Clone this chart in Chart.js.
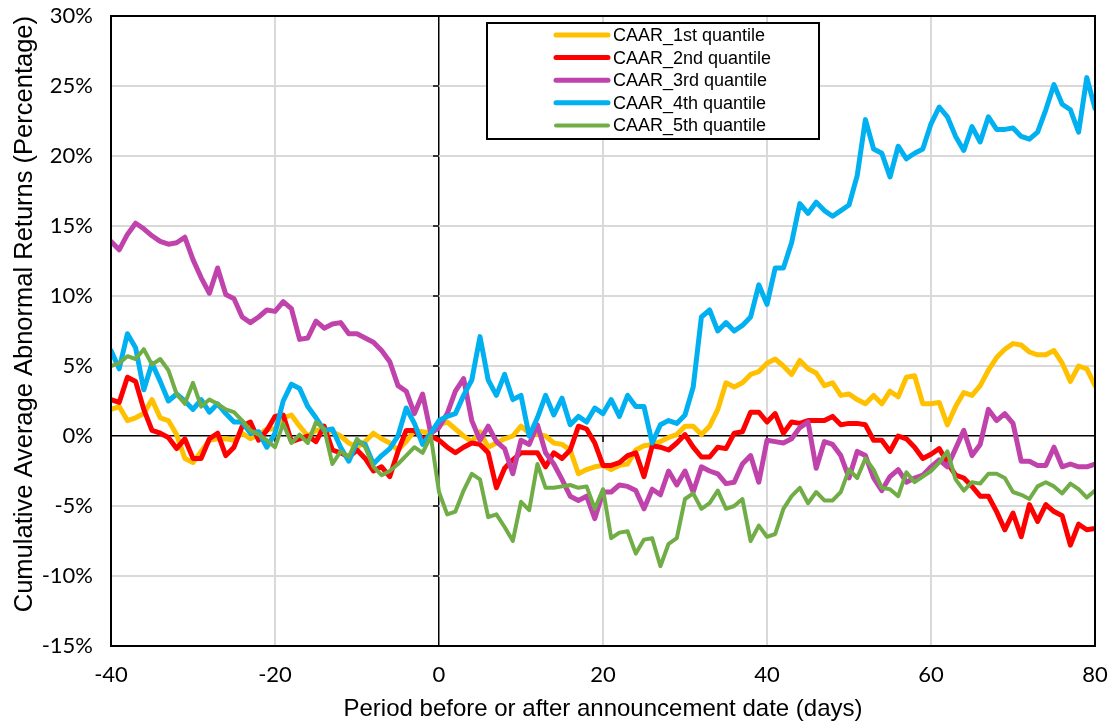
<!DOCTYPE html>
<html>
<head>
<meta charset="utf-8">
<title>CAAR by quantile</title>
<script src="https://cdn.jsdelivr.net/npm/chart.js@4.4.1/dist/chart.umd.min.js"></script>
<style>
  html, body { margin: 0; padding: 0; background: #fff; }
  canvas { display: block; }
</style>
</head>
<body>
<canvas id="chart" width="1115" height="726"></canvas>
<script>
// event window, day -40 .. day 80
const days = Array.from({ length: 121 }, (_, i) => i - 40);

// cumulative average abnormal returns, in percent, one value per day
const caar1 = [
  1.9, 2.1, 1.1, 1.3, 1.6, 2.6, 1.3, 1.1, 0.1, -1.6,
  -1.9, -1.1, -0.3, -0.2, -0.2, -0.3, 0.2, -0.2, 0.1, 0.5,
  0.5, 1.3, 1.5, 0.7, 0.0, 0.4, 0.5, 0.3, 0.0, -0.5,
  -0.8, -0.4, 0.2, -0.2, -0.5, -1.0, -0.4, 0.4, 0.3, 0.2,
  0.8, 1.0, 0.5, 0.0, -0.4, 0.3, -0.8, -0.5, -0.2, 0.0,
  0.7, 0.2, 0.1, 0.0, -0.5, -0.6, -1.0, -2.7, -2.4, -2.2,
  -2.1, -2.4, -2.1, -2.0, -1.0, -0.7, -0.6, -0.4, -0.1, 0.1,
  0.7, 0.7, 0.1, 0.7, 1.9, 3.8, 3.5, 3.8, 4.4, 4.6,
  5.2, 5.5, 5.0, 4.4, 5.4, 4.8, 4.5, 3.6, 3.8, 2.9,
  3.0, 2.6, 2.3, 2.9, 2.3, 3.2, 2.8, 4.2, 4.3, 2.3,
  2.3, 2.4, 0.8, 2.1, 3.1, 2.9, 3.6, 4.7, 5.6, 6.2,
  6.6, 6.5, 6.0, 5.8, 5.8, 6.1, 5.2, 3.9, 5.0, 4.8,
  3.6
];
const caar2 = [
  2.6, 2.4, 4.2, 3.9, 1.9, 0.4, 0.2, -0.1, -0.9, -0.2,
  -1.6, -1.6, -0.2, 0.2, -1.4, -0.8, 0.7, 1.0, -0.3, 0.4,
  1.4, 1.5, -0.4, -0.2, 0.0, -0.4, 0.7, -1.0, -1.2, -1.5,
  -1.0, -1.6, -2.5, -2.2, -2.9, -1.1, 0.4, 0.4, -0.2, 0.0,
  -0.3, -0.8, -1.2, -0.8, -0.5, -0.6, -1.2, -3.7, -2.3, -1.7,
  -1.2, -1.2, -1.2, -2.2, -1.2, -1.6, -1.0, 0.7, 0.5, -0.5,
  -2.1, -2.1, -1.9, -1.4, -1.2, -2.9, -0.7, -0.8, -1.0, -0.5,
  0.1, -0.8, -1.5, -1.5, -0.8, -0.9, 0.2, 0.3, 1.7, 1.7,
  1.0, 1.6, 0.2, 1.0, 0.9, 1.1, 1.1, 1.1, 1.4, 0.8,
  0.9, 0.9, 0.8, -0.3, -0.3, -1.1, 0.0, -0.2, -0.8, -1.6,
  -1.3, -0.9, -1.9, -2.8, -3.0, -3.6, -4.3, -4.3, -5.4, -6.7,
  -5.5, -7.2, -4.9, -6.1, -4.9, -5.4, -5.7, -7.8, -6.3, -6.7,
  -6.6
];
const caar3 = [
  13.9, 13.3, 14.4, 15.2, 14.8, 14.3, 13.9, 13.7, 13.8, 14.2,
  12.6, 11.3, 10.2, 12.0, 10.1, 9.8, 8.5, 8.1, 8.5, 9.0,
  8.9, 9.6, 9.1, 6.9, 7.0, 8.2, 7.7, 8.0, 8.1, 7.3,
  7.3, 7.0, 6.7, 6.1, 5.3, 3.6, 3.2, 1.6, 3.0, 0.2,
  0.6, 1.6, 3.2, 4.1, 1.1, -0.3, 0.7, -0.4, -0.9, -2.7,
  -0.3, -0.6, 0.8, -1.2, -2.0, -3.1, -4.3, -4.6, -4.3, -5.9,
  -4.0, -4.0, -3.5, -3.6, -3.9, -5.2, -3.8, -4.2, -2.5, -3.5,
  -2.5, -4.0, -2.2, -2.5, -2.7, -3.4, -3.3, -2.0, -1.4, -3.3,
  -0.3, -0.4, -0.5, -0.2, 0.6, 1.0, -2.3, -0.4, -0.6, -1.4,
  -3.0, -1.1, -1.4, -3.0, -3.9, -2.9, -2.4, -3.3, -3.0, -2.8,
  -2.2, -1.7, -2.2, -0.9, 0.4, -1.4, -0.6, 1.9, 1.1, 1.6,
  0.9, -1.8, -1.8, -2.1, -2.1, -0.8, -2.2, -2.0, -2.2, -2.2,
  -2.0
];
const caar4 = [
  6.1, 4.8, 7.3, 6.3, 3.3, 5.2, 3.9, 2.5, 3.0, 2.5,
  1.9, 2.6, 1.7, 2.3, 1.6, 1.0, 1.0, 0.2, 0.3, -0.8,
  0.2, 2.5, 3.7, 3.4, 2.1, 1.3, 0.4, 0.5, -0.8, -1.8,
  -0.4, -0.6, -2.0, -1.4, -0.9, 0.0, 2.0, 0.9, -0.6, 0.2,
  1.1, 1.4, 1.6, 2.9, 4.0, 7.1, 4.0, 2.9, 4.4, 2.6,
  2.9, 0.0, 1.3, 2.9, 1.5, 2.7, 0.8, 1.4, 1.0, 2.0,
  1.6, 2.6, 1.4, 2.9, 2.1, 2.1, -0.5, 0.8, 1.1, 0.9,
  1.5, 3.5, 8.5, 9.0, 7.5, 8.1, 7.5, 7.9, 8.5, 10.8,
  9.4, 12.0, 12.0, 13.8, 16.6, 15.9, 16.7, 16.1, 15.7, 16.1,
  16.5, 18.6, 22.6, 20.5, 20.2, 18.5, 20.7, 19.8, 20.2, 20.5,
  22.3, 23.5, 22.8, 21.4, 20.4, 22.1, 21.0, 22.8, 21.9, 21.9,
  22.0, 21.4, 21.2, 21.7, 23.3, 25.1, 23.7, 23.3, 21.7, 25.6,
  23.4
];
const caar5 = [
  5.0, 5.2, 5.7, 5.5, 6.2, 5.1, 5.5, 4.7, 3.0, 2.3,
  3.8, 2.1, 2.6, 2.3, 1.9, 1.7, 1.1, 0.4, 0.1, -0.3,
  -0.8, 0.9, -0.5, 0.1, -0.5, 1.0, 0.5, -2.0, -1.1, -1.5,
  -0.2, -0.8, -2.2, -2.8, -2.5, -2.0, -1.4, -0.8, -1.2, 0.0,
  -4.0, -5.6, -5.4, -3.9, -2.7, -3.1, -5.8, -5.6, -6.5, -7.5,
  -4.7, -5.3, -2.0, -3.7, -3.7, -3.6, -3.5, -3.7, -3.6, -5.2,
  -3.8, -7.3, -6.9, -6.8, -8.4, -7.4, -7.3, -9.3, -7.7, -7.3,
  -4.5, -4.1, -5.2, -4.8, -3.9, -5.2, -5.0, -4.5, -7.5, -6.4,
  -7.2, -7.0, -5.2, -4.3, -3.7, -4.8, -4.0, -4.6, -4.6, -4.0,
  -2.4, -3.0, -1.6, -2.4, -3.7, -3.8, -4.3, -2.6, -3.3, -2.9,
  -2.5, -1.9, -1.1, -3.1, -3.9, -3.3, -3.4, -2.7, -2.7, -3.0,
  -4.0, -4.2, -4.5, -3.6, -3.3, -3.6, -4.1, -3.4, -3.8, -4.4,
  -3.9
];

const seriesNames = ['CAAR_1st quantile', 'CAAR_2nd quantile', 'CAAR_3rd quantile', 'CAAR_4th quantile', 'CAAR_5th quantile'];
const seriesValues = [caar1, caar2, caar3, caar4, caar5];
const seriesColors = ['#FFC000', '#FF0000', '#C043AC', '#00B0F0', '#70AD47'];
const seriesWidths = [5, 5, 5, 5, 4];

const TICK_FONT = { family: 'Lato, Carlito, sans-serif', size: 22 };

let datasets = seriesValues.map((values, i) => ({
  label: seriesNames[i],
  data: values.map((v, j) => ({ x: days[j], y: v })),
  borderColor: seriesColors[i],
  backgroundColor: seriesColors[i],
  borderWidth: seriesWidths[i],
  order: seriesValues.length - i, // later quantiles painted on top
  fill: false,
}));

let gridColor = c => (c.tick && c.tick.value === 0) ? '#000' : '#d9d9d9';
let gridWidth = c => (c.tick && c.tick.value === 0) ? 1.5 : 2;

// plot frame, small ticks on the zero axes, and the boxed legend
const frame = {
  id: 'frame',
  beforeDatasetsDraw(chart) {
    const { ctx, scales: { x, y } } = chart;
    const x0 = x.getPixelForValue(0);
    const y0 = y.getPixelForValue(0);
    ctx.save();
    ctx.strokeStyle = '#000';
    ctx.lineWidth = 1.5;
    ctx.beginPath();
    y.ticks.forEach(t => {
      const py = y.getPixelForValue(t.value);
      ctx.moveTo(x0 - 6, py);
      ctx.lineTo(x0, py);
    });
    x.ticks.forEach(t => {
      const px = x.getPixelForValue(t.value);
      ctx.moveTo(px, y0);
      ctx.lineTo(px, y0 + 6);
    });
    ctx.stroke();
    ctx.restore();
  },
  afterDraw(chart) {
    const { ctx, chartArea: a } = chart;
    ctx.save();
    ctx.strokeStyle = '#000';
    ctx.lineWidth = 2;
    ctx.strokeRect(a.left, a.top, a.right - a.left, a.bottom - a.top);

    // legend
    const box = { left: 487, top: 23, width: 332, height: 116 };
    ctx.fillStyle = '#fff';
    ctx.fillRect(box.left, box.top, box.width, box.height);
    ctx.strokeRect(box.left, box.top, box.width, box.height);
    ctx.font = '18px "Liberation Sans", Arial, sans-serif';
    ctx.textBaseline = 'middle';
    ctx.lineCap = 'round';
    seriesNames.forEach((name, i) => {
      const yy = box.top + 12 + i * 22.6;
      ctx.strokeStyle = seriesColors[i];
      ctx.lineWidth = seriesWidths[i];
      ctx.beginPath();
      ctx.moveTo(556, yy);
      ctx.lineTo(608, yy);
      ctx.stroke();
      ctx.fillStyle = '#000';
      ctx.fillText(name, 613, yy + 1);
    });
    ctx.restore();
  }
};

new Chart(document.getElementById('chart'), {
  type: 'line',
  data: { datasets: datasets },
  plugins: [frame],
  options: {
    responsive: false,
    animation: false,
    devicePixelRatio: 1,
    layout: { padding: { left: 0, right: 20, top: 16, bottom: 0 } },
    plugins: { legend: { display: false }, tooltip: { enabled: false } },
    elements: {
      point: { radius: 0 },
      line: { tension: 0, borderJoinStyle: 'round', borderCapStyle: 'round' },
    },
    scales: {
      x: {
        type: 'linear',
        min: -40,
        max: 80,
        afterFit: s => { s.height = 80; s.paddingLeft = 0; s.paddingRight = 0; },
        ticks: { stepSize: 20, padding: 16, color: '#000', font: TICK_FONT, maxRotation: 0 },
        grid: { color: gridColor, lineWidth: gridWidth, drawTicks: false },
        border: { display: false },
        title: {
          display: true,
          text: 'Period before or after announcement date (days)',
          color: '#000',
          font: { family: '"Liberation Sans", Arial, sans-serif', size: 24 },
          padding: { top: 0, bottom: 2 },
        },
      },
      y: {
        min: -15,
        max: 30,
        afterFit: s => { s.width = 111; s.paddingTop = 0; s.paddingBottom = 0; },
        ticks: { stepSize: 5, padding: 18, color: '#000', font: TICK_FONT, callback: v => v + '%' },
        grid: { color: gridColor, lineWidth: gridWidth, drawTicks: false },
        border: { display: false },
        title: {
          display: true,
          text: 'Cumulative Average Abnormal Returns (Percentage)',
          color: '#000',
          align: 'end',
          font: { family: '"Liberation Sans", Arial, sans-serif', size: 25.5 },
          padding: { top: 10, bottom: 0 },
        },
      },
    },
  },
});
</script>
</body>
</html>
